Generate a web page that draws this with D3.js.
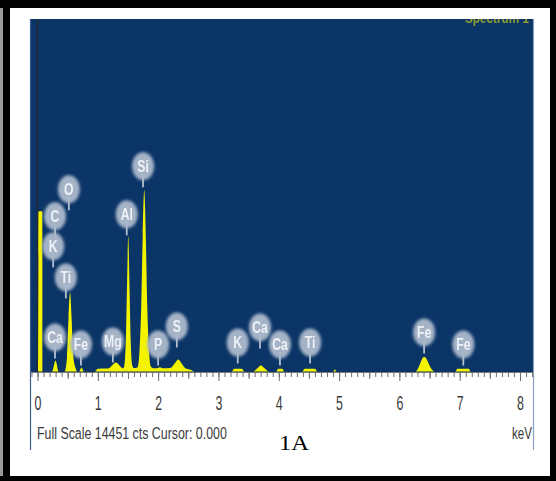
<!DOCTYPE html>
<html>
<head>
<meta charset="utf-8">
<script src="https://cdn.jsdelivr.net/npm/d3@7"></script>
<style>
  html, body { margin: 0; padding: 0; background: #fff; }
  svg { display: block; }
</style>
</head>
<body>
<svg id="chart" width="556" height="481"></svg>
<script>
// EDS spectrum: energy (keV) vs counts, with element markers
const fullScale = 14451;

// spectrum outline points: energy in keV, counts
const spectrumEnergy = [
  0, 0.015, 0.016, 0.08, 0.081, 0.24, 0.30, 0.35,
  0.45, 0.49, 0.515, 0.54, 0.565, 0.59, 0.63, 0.66,
  0.69, 0.73, 0.77, 0.95, 1.0, 1.17, 1.30, 1.42,
  1.44, 1.465, 1.485, 1.505, 1.525, 1.545, 1.57, 1.60,
  1.63, 1.66, 1.69, 1.72, 1.745, 1.77, 1.795, 1.82, 1.85, 1.88, 1.92,
  1.98, 2.03, 2.08, 2.20, 2.28, 2.335, 2.39, 2.46, 2.55, 2.60,
  3.22, 3.26, 3.39, 3.43, 3.58, 3.64, 3.705, 3.77, 3.83,
  3.96, 3.99, 4.06, 4.09, 4.39, 4.43, 4.60, 4.64,
  4.90, 4.93, 4.96, 6.27, 6.30, 6.41, 6.54, 6.58,
  6.93, 6.96, 7.15, 7.18, 8.2
];
const spectrumCounts = [
  0, 0, 6570, 6570, 0, 0, 452, 0,
  0, 600, 2200, 3243, 2200, 700, 150, 0,
  0, 164, 0, 0, 110, 120, 370, 130,
  250, 1300, 3600, 5542, 3600, 1300, 260, 140,
  140, 180, 800, 2700, 5600, 7430, 5600, 2700, 800, 200, 130,
  130, 170, 130, 140, 350, 490, 330, 120, 60, 0,
  0, 115, 115, 0, 0, 120, 246, 120, 0,
  0, 110, 110, 0, 0, 110, 110, 0,
  0, 80, 0, 0, 80, 600, 80, 0,
  0, 110, 110, 0, 0
];

// element markers: symbol, energy (keV), counts level where the stem ends
const markerNames    = ["O", "C", "K", "Ti", "Ca", "Fe", "Mg", "Al", "Si", "P", "S", "K", "Ca", "Ca", "Ti", "Fe", "Fe"];
const markerEnergies = [0.52, 0.29, 0.26, 0.47, 0.29, 0.72, 1.25, 1.48, 1.75, 2.00, 2.31, 3.32, 3.69, 4.02, 4.52, 6.41, 7.06];
const markerLevels   = [6609, 5501, 4269, 2997, 534, 246, 369, 5583, 7553, 246, 985, 328, 944, 246, 328, 739, 246];

// axis
const majorTicks = [0, 1, 2, 3, 4, 5, 6, 7, 8];
const tickLabels = ["0", "1", "2", "3", "4", "5", "6", "7", "8"];
const axisStart = -0.1, axisEnd = 8.2;
const cursorEnergy = 0;
const titleText = "Spectrum 1";
const footerText = "Full Scale " + fullScale + " cts Cursor: 0.000";
const unitText = "keV";
const panelLabel = "1A";

const svg = d3.select("#chart");
const W = 556, H = 481;
const plot = { left: 30, right: 533, top: 19, base: 372, bottom: 450 };

const x = d3.scaleLinear().domain([0, 8]).range([37.5, 520]);
const y = d3.scaleLinear().domain([0, fullScale]).range([plot.base - 0.5, plot.top]);

// page frame
svg.append("rect").attr("width", W).attr("height", H).attr("fill", "#fff");
svg.append("rect").attr("x", 0).attr("y", 0).attr("width", 3).attr("height", H).attr("fill", "#9a9a9a");
svg.append("rect").attr("x", 3).attr("y", 0).attr("width", 7).attr("height", H).attr("fill", "#000");
svg.append("rect").attr("x", 0).attr("y", 0).attr("width", W).attr("height", 8).attr("fill", "#000");
svg.append("rect").attr("x", 550).attr("y", 0).attr("width", 6).attr("height", H).attr("fill", "#000");
svg.append("rect").attr("x", 0).attr("y", 476).attr("width", W).attr("height", 5).attr("fill", "#000");

// spectrum window
const defs = svg.append("defs");
defs.append("clipPath").attr("id", "plotClip")
  .append("rect")
  .attr("x", plot.left).attr("y", plot.top)
  .attr("width", plot.right - plot.left).attr("height", plot.base - plot.top);
const soft = defs.append("filter").attr("id", "soft")
  .attr("x", "-40%").attr("y", "-40%").attr("width", "180%").attr("height", "180%");
soft.append("feGaussianBlur").attr("stdDeviation", 1.6);
const softText = defs.append("filter").attr("id", "softText")
  .attr("x", "-40%").attr("y", "-40%").attr("width", "180%").attr("height", "180%");
softText.append("feGaussianBlur").attr("stdDeviation", 0.5);

svg.append("rect")
  .attr("x", plot.left).attr("y", plot.top)
  .attr("width", plot.right - plot.left).attr("height", plot.base - plot.top)
  .attr("fill", "#0b3567");

// window side borders
svg.append("line").attr("x1", plot.left + 0.5).attr("x2", plot.left + 0.5)
  .attr("y1", plot.top).attr("y2", plot.bottom)
  .attr("stroke", "#3f5f92").attr("stroke-width", 1.2);
svg.append("line").attr("x1", plot.right + 0.5).attr("x2", plot.right + 0.5)
  .attr("y1", plot.top).attr("y2", plot.bottom)
  .attr("stroke", "#8aa0c0").attr("stroke-width", 1.2);

const inner = svg.append("g").attr("clip-path", "url(#plotClip)");

// spectrum title, mostly above the window edge
inner.append("text")
  .attr("x", 465).attr("y", 23)
  .attr("textLength", 64).attr("lengthAdjust", "spacingAndGlyphs")
  .attr("font-family", "Liberation Sans, Arial, sans-serif")
  .attr("font-size", 15).attr("font-weight", "bold")
  .attr("fill", "#8d9c32")
  .attr("filter", "url(#softText)")
  .text(titleText);

// cursor line
inner.append("line")
  .attr("x1", x(cursorEnergy)).attr("x2", x(cursorEnergy))
  .attr("y1", plot.top).attr("y2", plot.base)
  .attr("stroke", "#1d2a3f").attr("stroke-width", 2);

// spectrum
const spectrum = spectrumEnergy.map((e, i) => ({ e, c: spectrumCounts[i] }));
const area = d3.area()
  .x(d => x(d.e))
  .y0(y(0))
  .y1(d => y(d.c))
  .curve(d3.curveMonotoneX);
inner.append("path")
  .datum(spectrum)
  .attr("d", area)
  .attr("fill", "#f4f400");

// element markers
const markers = markerNames.map((n, i) => ({ n, e: markerEnergies[i], c: markerLevels[i] }));
const mg = inner.selectAll("g.marker").data(markers).join("g")
  .attr("class", "marker")
  .attr("transform", d => `translate(${x(d.e)},${y(d.c)})`);
mg.append("line")
  .attr("x1", 0).attr("x2", 0).attr("y1", 0).attr("y2", -14)
  .attr("stroke", "#b4c0d0").attr("stroke-width", 1.8);
mg.append("ellipse")
  .attr("cx", 0).attr("cy", -21).attr("rx", 11).attr("ry", 14)
  .attr("fill", "#aab8cb").attr("opacity", 0.97)
  .attr("filter", "url(#soft)");
mg.append("text")
  .attr("transform", "translate(0,-15) scale(0.72,1)")
  .attr("text-anchor", "middle")
  .attr("font-family", "Liberation Sans, Arial, sans-serif")
  .attr("font-size", 17).attr("font-weight", "bold")
  .attr("fill", "#eef2f7")
  .attr("filter", "url(#softText)")
  .text(d => d.n);

// energy axis ruler
const minorTicks = d3.range(Math.round(axisStart * 10), Math.round(axisEnd * 10) + 1).map(v => v / 10);
const halfTicks = minorTicks.filter(v => Math.abs(v * 2 - Math.round(v * 2)) < 1e-6 && Math.abs(v - Math.round(v)) > 1e-6);

const axisG = svg.append("g").attr("transform", `translate(0,${plot.base})`);
axisG.append("line")
  .attr("x1", x(axisStart)).attr("x2", x(axisEnd))
  .attr("y1", 0.5).attr("y2", 0.5)
  .attr("stroke", "#7a7a7a").attr("stroke-width", 1);

const minorAxis = axisG.append("g")
  .call(d3.axisBottom(x).tickValues(minorTicks).tickSize(5).tickFormat(""));
const halfAxis = axisG.append("g")
  .call(d3.axisBottom(x).tickValues(halfTicks).tickSize(7).tickFormat(""));
const majorAxis = axisG.append("g")
  .call(d3.axisBottom(x).tickValues(majorTicks).tickSize(9)
    .tickFormat((d, i) => tickLabels[i]));
[minorAxis, halfAxis, majorAxis].forEach(g => {
  g.select(".domain").remove();
  g.selectAll(".tick line").attr("stroke", "#6d6d6d").attr("stroke-width", 1);
});
majorAxis.selectAll(".tick text")
  .attr("y", 0).attr("dy", 0)
  .attr("transform", "translate(0,38) scale(0.62,1)")
  .attr("font-family", "Liberation Sans, Arial, sans-serif")
  .attr("font-size", 20)
  .attr("fill", "#3a3a3a");

// footer texts, condensed horizontally to a set width
function condensedText(str, left, baseline, width, size) {
  const t = svg.append("text")
    .attr("font-family", "Liberation Sans, Arial, sans-serif")
    .attr("font-size", size)
    .attr("fill", "#3a3a3a")
    .text(str);
  const natural = t.node().getComputedTextLength();
  t.attr("transform", `translate(${left},${baseline}) scale(${width / natural},1)`);
  return t;
}
condensedText(footerText, 37, 439, 190, 17);
condensedText(unitText, 512, 439, 20, 17);

svg.append("text")
  .attr("x", 279).attr("y", 450)
  .attr("textLength", 30).attr("lengthAdjust", "spacingAndGlyphs")
  .attr("font-family", "Liberation Serif, Times New Roman, serif")
  .attr("font-size", 21)
  .attr("fill", "#000")
  .text(panelLabel);
</script>
</body>
</html>
